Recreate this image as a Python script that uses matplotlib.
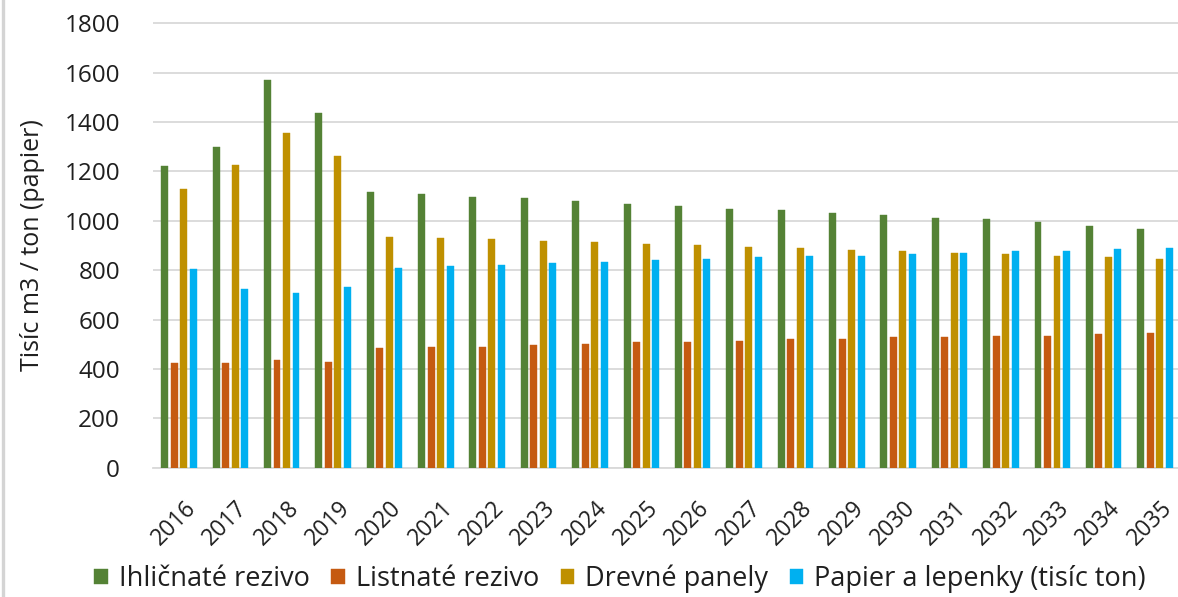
import numpy as np
import matplotlib
matplotlib.use("Agg")
import matplotlib.pyplot as plt
from matplotlib.lines import Line2D
from matplotlib.transforms import ScaledTranslation

years = [str(y) for y in range(2016, 2036)]

ihlicnate_rezivo = [1220, 1300, 1570, 1435, 1115, 1110, 1098, 1091, 1079, 1067,
                    1060, 1048, 1042, 1032, 1023, 1011, 1006, 994, 980, 968]
listnate_rezivo = [423, 423, 436, 429, 483, 490, 490, 496, 502, 508,
                   508, 514, 521, 521, 528, 528, 535, 535, 541, 547]
drevne_panely = [1127, 1227, 1354, 1262, 936, 931, 925, 919, 914, 906,
                 901, 895, 888, 883, 878, 871, 864, 859, 852, 846]
papier_lepenky = [803, 722, 706, 730, 809, 816, 821, 828, 833, 840,
                  846, 852, 859, 859, 864, 871, 877, 877, 884, 890]

series_names = ["Ihličnaté rezivo", "Listnaté rezivo", "Drevné panely",
                "Papier a lepenky (tisíc ton)"]
series_values = [ihlicnate_rezivo, listnate_rezivo, drevne_panely, papier_lepenky]
series_colors = ["#548235", "#C55A11", "#BF9000", "#00B0F0"]

y_ticks = [0, 200, 400, 600, 800, 1000, 1200, 1400, 1600, 1800]

plt.rcParams["font.family"] = ["Open Sans", "DejaVu Sans"]
text_color = "#1f1f1f"

W, H = 1178, 597
fig = plt.figure(figsize=(W / 100, H / 100), dpi=100)
fig.patch.set_facecolor("white")

# plot area in pixels: left 153, 0 at y=468, 1800 at y=23, 20 categories of ~51.4 px
ymax = 1810
px_per_unit = (467.7 - 23.3) / 1800
ax_left = 153.3
ax_width = 20 * 51.37
ax_bottom = H - 467.7
ax_height = ymax * px_per_unit
ax = fig.add_axes([ax_left / W, ax_bottom / H, ax_width / W, ax_height / H])

x = np.arange(len(years))
pitch = 0.185
bar_w = 0.135
offsets = (np.arange(4) - 1.5) * pitch
for vals, name, col, off in zip(series_values, series_names, series_colors, offsets):
    ax.bar(x + off, vals, width=bar_w, color=col, label=name, zorder=3,
           edgecolor=col, linewidth=0.3)

ax.set_xlim(-0.5, len(years) - 0.5)
ax.set_ylim(0, ymax)
ax.set_yticks(y_ticks)
ax.set_yticklabels([str(v) for v in y_ticks], fontsize=17.5, color=text_color)
ax.yaxis.grid(True, color="#d9d9d9", linewidth=1.3, zorder=0)
ax.set_axisbelow(True)
for s in ["top", "right", "left"]:
    ax.spines[s].set_visible(False)
ax.spines["bottom"].set_color("#d9d9d9")
ax.spines["bottom"].set_linewidth(1.3)
ax.tick_params(axis="both", length=0)
ax.tick_params(axis="y", pad=24)

ax.set_xticks(x)
ax.set_xticklabels(years, rotation=45, ha="right", va="top", rotation_mode="anchor",
                   fontsize=16.5, color=text_color)
shift = ScaledTranslation(5 / 100, -24 / 100, fig.dpi_scale_trans)
for lbl in ax.get_xticklabels():
    lbl.set_transform(lbl.get_transform() + shift)

ax.set_ylabel("Tisíc m3 / ton (papier)", fontsize=18, color=text_color)
ax.yaxis.set_label_coords((45 - ax_left) / ax_width, (H - 245 - ax_bottom) / ax_height)

fig.legend(loc="center", bbox_to_anchor=(620 / W, 1 - 579 / H), ncol=4,
           frameon=False, fontsize=19.5, handlelength=0.5, handleheight=0.5,
           handletextpad=0.4, columnspacing=0.8, labelcolor=text_color)

# thin grey frame line at the left edge
fig.add_artist(Line2D([2.5 / W, 2.5 / W], [0, 1], transform=fig.transFigure,
                      color="#d4d4d4", linewidth=2.4))

fig.savefig("out.png", dpi=100, facecolor="white")
